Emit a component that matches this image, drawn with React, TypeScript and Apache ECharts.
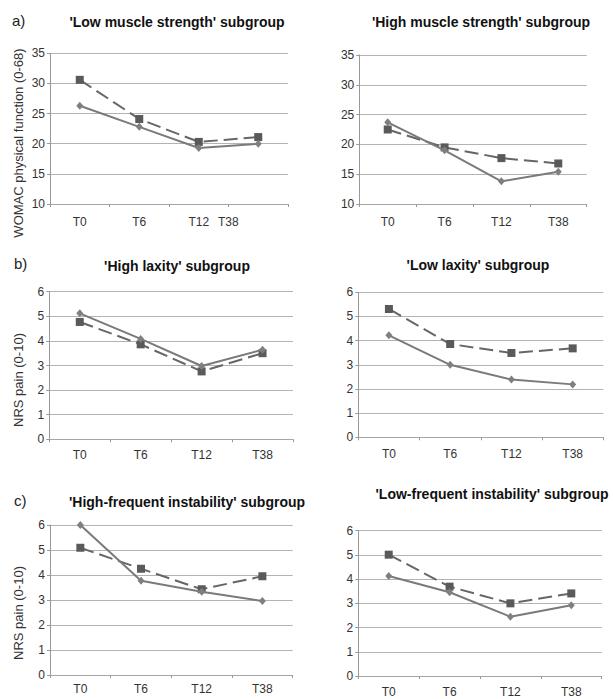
import React, { useEffect, useRef } from "react";
import * as echarts from "echarts";

const CATEGORIES = ["T0", "T6", "T12", "T38"];

const TITLES = [
  "'Low muscle strength' subgroup",
  "'High muscle strength' subgroup",
  "'High laxity' subgroup",
  "'Low laxity' subgroup",
  "'High-frequent instability' subgroup",
  "'Low-frequent instability' subgroup",
];

// dashed line with squares
const A_LEFT_DASHED = [30.6, 24.1, 20.3, 21.1];
const A_LEFT_SOLID = [26.3, 22.8, 19.3, 20.0];
const A_RIGHT_DASHED = [22.5, 19.5, 17.7, 16.8];
const A_RIGHT_SOLID = [23.7, 19.0, 13.8, 15.4];
const B_LEFT_DASHED = [4.77, 3.86, 2.76, 3.5];
const B_LEFT_SOLID = [5.12, 4.08, 2.98, 3.64];
const B_RIGHT_DASHED = [5.31, 3.86, 3.49, 3.68];
const B_RIGHT_SOLID = [4.22, 3.0, 2.39, 2.19];
const C_LEFT_DASHED = [5.09, 4.25, 3.43, 3.95];
const C_LEFT_SOLID = [6.0, 3.77, 3.33, 2.96];
const C_RIGHT_DASHED = [5.01, 3.69, 3.0, 3.41];
const C_RIGHT_SOLID = [4.13, 3.46, 2.45, 2.92];

const DASHED = [A_LEFT_DASHED, A_RIGHT_DASHED, B_LEFT_DASHED, B_RIGHT_DASHED, C_LEFT_DASHED, C_RIGHT_DASHED];
const SOLID = [A_LEFT_SOLID, A_RIGHT_SOLID, B_LEFT_SOLID, B_RIGHT_SOLID, C_LEFT_SOLID, C_RIGHT_SOLID];

const WOMAC_RANGE = { min: 10, max: 35, interval: 5 };
const NRS_RANGE = { min: 0, max: 6, interval: 1 };

const FONT = "'Liberation Sans', Arial, sans-serif";

const PANELS = [
  { left: 50, top: 53.3, width: 238, height: 150.7, range: WOMAC_RANGE, labelMargin: 12, titleX: 177, titleY: 22, shiftLast: true },
  { left: 359.3, top: 55, width: 227.4, height: 149, range: WOMAC_RANGE, labelMargin: 12, titleX: 481, titleY: 22, shiftLast: false },
  { left: 49.3, top: 291.7, width: 243.7, height: 147.6, range: NRS_RANGE, labelMargin: 10, titleX: 177, titleY: 266, shiftLast: false },
  { left: 358.3, top: 292.3, width: 245, height: 145, range: NRS_RANGE, labelMargin: 11, titleX: 478, titleY: 265, shiftLast: false },
  { left: 50, top: 525, width: 242.7, height: 150, range: NRS_RANGE, labelMargin: 8, titleX: 187, titleY: 502, shiftLast: false },
  { left: 358.3, top: 530.7, width: 243.4, height: 145.3, range: NRS_RANGE, labelMargin: 10, titleX: 492, titleY: 494, shiftLast: false },
];

export default function App() {
  const ref = useRef<HTMLDivElement>(null);

  useEffect(() => {
    if (!ref.current) return;
    const chart = echarts.init(ref.current, undefined, { renderer: "svg" });

    const grid = PANELS.map((p) => ({ left: p.left, top: p.top, width: p.width, height: p.height }));

    const xAxis = PANELS.map((p, i) => ({
      type: "category",
      gridIndex: i,
      data: CATEGORIES,
      boundaryGap: true,
      axisLine: { show: true, lineStyle: { color: "#a6a6a6", width: 1.2 } },
      axisTick: { show: true, length: 3, lineStyle: { color: "#999" } },
      splitLine: { show: false },
      axisLabel: {
        color: "#333",
        fontSize: 12,
        fontFamily: FONT,
        margin: p.labelMargin,
        formatter: p.shiftLast
          ? (v: string, idx: number) => (idx === 3 ? "{s|" + v + "}" : v)
          : undefined,
        rich: p.shiftLast ? { s: { padding: [0, 60, 0, 0], fontSize: 12, color: "#333", fontFamily: FONT } } : undefined,
      },
    }));

    const yAxis = PANELS.map((p, i) => ({
      type: "value",
      gridIndex: i,
      min: p.range.min,
      max: p.range.max,
      interval: p.range.interval,
      axisLine: { show: true, lineStyle: { color: "#999", width: 1 } },
      axisTick: { show: true, length: 3, lineStyle: { color: "#999" } },
      splitLine: { show: true, lineStyle: { color: "#b3b3b3", width: 1.2 } },
      axisLabel: { color: "#333", fontSize: 12, fontFamily: FONT, margin: 5 },
    }));

    const series: any[] = [];
    PANELS.forEach((_, i) => {
      series.push({
        type: "line",
        xAxisIndex: i,
        yAxisIndex: i,
        data: DASHED[i],
        symbol: "rect",
        symbolSize: 8,
        itemStyle: { color: "#5a5a5a" },
        lineStyle: { color: "#666", width: 2, type: [14, 6] },
        z: 3,
      });
      series.push({
        type: "line",
        xAxisIndex: i,
        yAxisIndex: i,
        data: SOLID[i],
        symbol: "diamond",
        symbolSize: [7, 8],
        itemStyle: { color: "#7f7f7f" },
        lineStyle: { color: "#7a7a7a", width: 2, type: "solid" },
        z: 4,
      });
    });

    const graphic: any[] = [];
    PANELS.forEach((p, i) => {
      graphic.push({
        type: "text",
        x: p.titleX,
        y: p.titleY,
        style: {
          text: TITLES[i],
          align: "center",
          verticalAlign: "middle",
          font: "bold 14px " + FONT,
          fill: "#111",
        },
      });
    });
    const letters = [
      { t: "a)", x: 12, y: 20 },
      { t: "b)", x: 14, y: 263 },
      { t: "c)", x: 14, y: 500 },
    ];
    letters.forEach((l) =>
      graphic.push({
        type: "text",
        x: l.x,
        y: l.y,
        style: { text: l.t, align: "left", verticalAlign: "middle", font: "15px " + FONT, fill: "#222" },
      })
    );
    const names = [
      { t: "WOMAC physical function (0-68)", x: 18, y: 143 },
      { t: "NRS pain (0-10)", x: 18, y: 380 },
      { t: "NRS pain (0-10)", x: 18, y: 613 },
    ];
    names.forEach((n) =>
      graphic.push({
        type: "text",
        x: n.x,
        y: n.y,
        rotation: Math.PI / 2,
        style: { text: n.t, align: "center", verticalAlign: "middle", font: "13px " + FONT, fill: "#333" },
      })
    );

    chart.setOption({
      animation: false,
      backgroundColor: "#ffffff",
      textStyle: { fontFamily: FONT },
      grid,
      xAxis,
      yAxis,
      series,
      graphic,
    });

    return () => chart.dispose();
  }, []);

  return (
    <div
      ref={ref}
      style={{ position: "fixed", left: 0, top: 0, width: 613, height: 699, background: "#fff" }}
    />
  );
}
